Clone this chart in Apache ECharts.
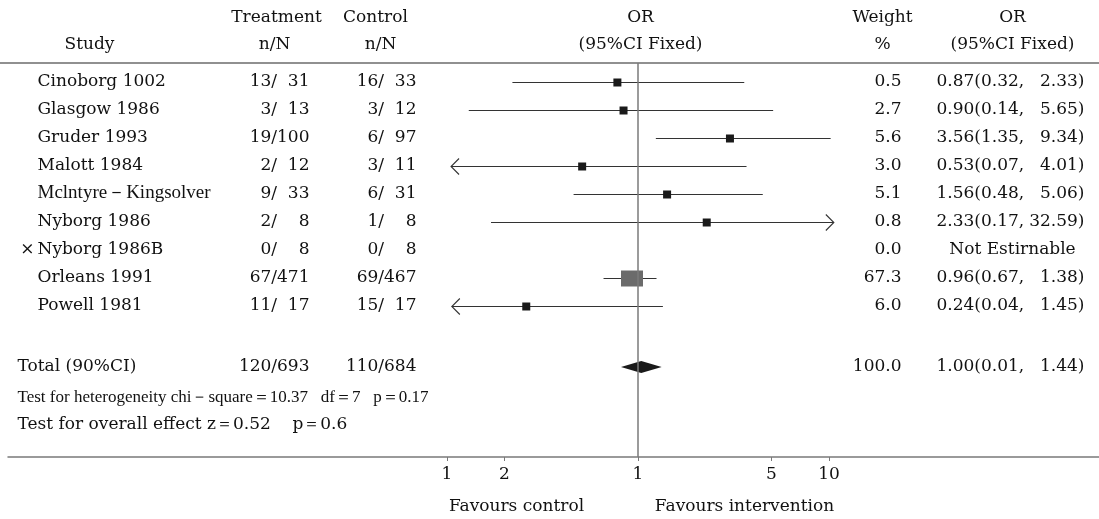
<!DOCTYPE html>
<html lang="en">
<head>
<meta charset="UTF-8">
<title>Forest plot</title>
<script src="https://cdn.jsdelivr.net/npm/echarts@6/dist/echarts.min.js"></script>
<style>
  html, body { margin: 0; height: 100%; background: #fff; }
  #main { width: 1099px; height: 519px; }
</style>
</head>
<body>
<div id="main"></div>
<script>
// ---- data ----
var studies = ['Cinoborg 1002', 'Glasgow 1986', 'Gruder 1993', 'Malott 1984', 'Mclntyre－Kingsolver',
               'Nyborg 1986', 'Nyborg 1986B', 'Orleans 1991', 'Powell 1981'];
var excluded = [false, false, false, false, false, false, true, false, false];
var treatEvents = [13, 3, 19, 2, 9, 2, 0, 67, 11];
var treatTotal  = [31, 13, 100, 12, 33, 8, 8, 471, 17];
var ctrlEvents  = [16, 3, 6, 3, 6, 1, 0, 69, 15];
var ctrlTotal   = [33, 12, 97, 11, 31, 8, 8, 467, 17];
var weights     = [0.5, 2.7, 5.6, 3.0, 5.1, 0.8, 0.0, 67.3, 6.0];
// OR column as printed
var orValue  = ['0.87', '0.90', '3.56', '0.53', '1.56', '2.33', null, '0.96', '0.24'];
var orLow    = ['0.32', '0.14', '1.35', '0.07', '0.48', '0.17', null, '0.67', '0.04'];
var orHigh   = ['2.33', '5.65', '9.34', '4.01', '5.06', '32.59', null, '1.38', '1.45'];
// where the marks sit on the drawn axis
var plotLow  = [0.22, 0.13, 1.24, 0.105, 0.46, 0.17, null, 0.66, 0.106];
var plotEst  = [0.78, 0.84, 3.03, 0.51, 1.42, 2.29, null, 0.93, 0.26];
var plotHigh = [3.6, 5.1, 10.2, 3.7, 4.5, 10.6, null, 1.25, 1.35];

var totalLabel = 'Total (90%CI)';
var totalTreat = [120, 693];
var totalCtrl  = [110, 684];
var totalWeight = '100.0';
var totalOr = ['1.00', '0.01', '1.44'];
var totalPlot = [0.815, 1.04, 1.33];

var heteroText = 'Test for heterogeneity chi－square＝10.37   df＝7   p＝0.17';
var overallText = 'Test for overall effect z＝0.52    p＝0.6';

var tickValues = [0.1, 0.2, 1, 5, 10];
var tickLabels = ['1', '2', '1', '5', '10'];

// ---- layout ----
var W = 1099, axisY = 457, headLineY = 63;
var rowTop = 82, rowStep = 28;
var gridLeft = 8;
var onePx = 638, decadePx = 191;
var font = 'DejaVu Serif', narrow = 'Liberation Serif', ink = '#111';
var fs = 17;

function pxToVal(px) { return Math.pow(10, (px - onePx) / decadePx); }
function rowAt(px) { return (px - rowTop) / rowStep; }
function pad(n) { var s = String(n); while (s.length < 3) s = '\u2007' + s; return s; }
function frac(a, b) { return a + '/' + pad(b); }

var chart = echarts.init(document.getElementById('main'));

// text cells
var cells = [];
function cell(x, row, text, align, extra) { cells.push({ value: [x, row], name: text, label: Object.assign({ align: align }, extra || {}) }); }

var h1 = rowAt(18), h2 = rowAt(45);
cell(90, h2, 'Study', 'center');
cell(277, h1, 'Treatment', 'center');
cell(275, h2, 'n/N', 'center');
cell(376, h1, 'Control', 'center');
cell(381, h2, 'n/N', 'center');
cell(641, h1, 'OR', 'center');
cell(641, h2, '(95%CI Fixed)', 'center');
cell(883, h1, 'Weight', 'center');
cell(883, h2, '%', 'center');
cell(1013, h1, 'OR', 'center');
cell(1013, h2, '(95%CI Fixed)', 'center');

studies.forEach(function (s, i) {
  var narrowName = s.length > 16;
  cell(38, i, s, 'left', narrowName ? { fontFamily: narrow, fontSize: 19 } : null);
  if (excluded[i]) cell(35, i, '×', 'right');
  cell(310, i, frac(treatEvents[i], treatTotal[i]), 'right');
  cell(417, i, frac(ctrlEvents[i], ctrlTotal[i]), 'right');
  cell(902, i, weights[i].toFixed(1), 'right');
  if (orValue[i] === null) {
    cell(1013, i, 'Not Estirnable', 'center');
  } else {
    cell(937, i, orValue[i] + '(' + orLow[i] + ',', 'left');
    cell(1085, i, orHigh[i] + ')', 'right');
  }
});

var tRow = rowAt(367);
cell(18, tRow, totalLabel, 'left');
cell(310, tRow, totalTreat[0] + '/' + totalTreat[1], 'right');
cell(417, tRow, totalCtrl[0] + '/' + totalCtrl[1], 'right');
cell(902, tRow, totalWeight, 'right');
cell(937, tRow, totalOr[0] + '(' + totalOr[1] + ',', 'left');
cell(1085, tRow, totalOr[2] + ')', 'right');
cell(18, rowAt(398), heteroText, 'left', { fontFamily: narrow, fontSize: 17 });
cell(18, rowAt(425), overallText, 'left');
cell(517, rowAt(507), 'Favours control', 'center');
cell(745, rowAt(507), 'Favours intervention', 'center');

// study marks
var markData = [];
studies.forEach(function (s, i) {
  if (plotEst[i] === null) return;
  var ciLo = parseFloat(orLow[i]), ciHi = parseFloat(orHigh[i]);
  markData.push([plotLow[i], plotEst[i], plotHigh[i], i, weights[i],
                 ciLo < tickValues[0] ? 1 : 0, ciHi > tickValues[tickValues.length - 1] ? 1 : 0]);
});

var lineColor = '#333';
function renderStudy(params, api) {
  var row = api.value(3);
  var lo = api.coord([api.value(0), row]);
  var mid = api.coord([api.value(1), row]);
  var hi = api.coord([api.value(2), row]);
  var big = api.value(4) > 50;
  var bw = big ? 22 : 8, bh = big ? 16 : 8;
  var y = Math.round(mid[1]) + 0.5;
  var kids = [
    { type: 'line', shape: { x1: lo[0], y1: y, x2: hi[0], y2: y }, style: { stroke: lineColor, lineWidth: 1.1 } },
    { type: 'rect', shape: { x: mid[0] - bw / 2, y: y - bh / 2, width: bw, height: bh },
      style: { fill: big ? '#6b6b6b' : '#1a1a1a' } }
  ];
  if (api.value(5)) kids.push({ type: 'polyline', shape: { points: [[lo[0] + 8, y - 8], [lo[0], y], [lo[0] + 8, y + 8]] },
    style: { stroke: lineColor, lineWidth: 1.1, fill: null } });
  if (api.value(6)) kids.push({ type: 'polyline', shape: { points: [[hi[0] - 8, y - 8], [hi[0], y], [hi[0] - 8, y + 8]] },
    style: { stroke: lineColor, lineWidth: 1.1, fill: null } });
  return { type: 'group', children: kids };
}

function renderDiamond(params, api) {
  var row = api.value(3);
  var lo = api.coord([api.value(0), row]);
  var mid = api.coord([api.value(1), row]);
  var hi = api.coord([api.value(2), row]);
  return { type: 'polygon', shape: { points: [[lo[0], mid[1]], [mid[0], mid[1] - 6], [hi[0], mid[1]], [mid[0], mid[1] + 6]] },
           style: { fill: '#1a1a1a' } };
}

var option = {
  animation: false,
  grid: { left: gridLeft, right: 0, top: 0, bottom: 519 - axisY, outerBoundsMode: 'none' },
  xAxis: [
    { type: 'log', logBase: 10, min: pxToVal(gridLeft), max: pxToVal(W),
      axisLine: { show: true, onZero: false, lineStyle: { color: '#7a7a7a', width: 1.5 } },
      axisTick: { show: true, customValues: tickValues, length: 4, lineStyle: { color: '#7a7a7a' } },
      axisLabel: { customValues: tickValues, margin: 9, color: ink, fontFamily: font, fontSize: fs,
        formatter: function (v) {
          var best = 0;
          tickValues.forEach(function (t, k) { if (Math.abs(Math.log(v / t)) < Math.abs(Math.log(v / tickValues[best]))) best = k; });
          return tickLabels[best];
        } },
      splitLine: { show: false } },
    { type: 'value', min: gridLeft, max: W, show: false }
  ],
  yAxis: { type: 'value', inverse: true, min: -rowTop / rowStep, max: (axisY - rowTop) / rowStep, show: false },
  graphic: [
    { type: 'line', shape: { x1: 0, y1: headLineY, x2: W, y2: headLineY }, style: { stroke: '#222', lineWidth: 1.2 } }
  ],
  series: [
    { type: 'line', xAxisIndex: 0, data: [], silent: true,
      markLine: { symbol: 'none', silent: true, label: { show: false },
        lineStyle: { color: '#7a7a7a', width: 1.5, type: 'solid' },
        data: [[{ coord: [1, rowAt(headLineY)] }, { coord: [1, (axisY - rowTop) / rowStep] }]] } },
    { type: 'custom', xAxisIndex: 0, renderItem: renderStudy, data: markData, silent: true, z: 3 },
    { type: 'custom', xAxisIndex: 0, renderItem: renderDiamond, data: [[totalPlot[0], totalPlot[1], totalPlot[2], tRow]], silent: true, z: 3 },
    { type: 'scatter', xAxisIndex: 1, data: cells, symbolSize: 1, silent: true, clip: false,
      itemStyle: { color: 'rgba(0,0,0,0)', opacity: 1 },
      label: { show: true, position: [0, 0], verticalAlign: 'middle', color: ink, textBorderWidth: 0,
        fontFamily: font, fontSize: fs, formatter: function (p) { return p.name; } }, z: 5 }
  ]
};
chart.setOption(option);
</script>
</body>
</html>
